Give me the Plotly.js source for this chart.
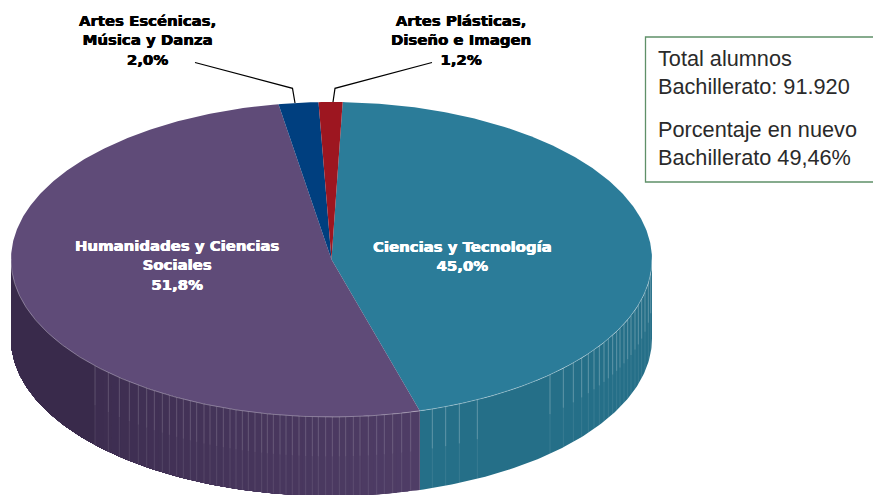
<!DOCTYPE html>
<html><head><meta charset="utf-8">
<script src="https://cdn.plot.ly/plotly-3.0.1.min.js"></script>
<style>html,body{margin:0;padding:0;background:#fff}#c{width:873px;height:495px}</style>
</head><body><div id="c"></div>
<script>
// Data
const categories = ["Ciencias y Tecnología","Humanidades y Ciencias<br>Sociales","Artes Escénicas,<br>Música y Danza","Artes Plásticas,<br>Diseño e Imagen"];
const shares = [45.0,51.8,2.0,1.2];
const shareLabels = ["45,0%","51,8%","2,0%","1,2%"];
const infoLines = ["Total alumnos<br>Bachillerato: 91.920","Porcentaje en nuevo<br>Bachillerato 49,46%"];

// Styles and geometry of the drawn disc (axis units = page pixels)
const topColors = ["#2b7c99","#5f4b78","#003f7f","#9d1620"];
const cx=331.5, cy=259.5, rx=320.5, ry=157.5, depth=79, startDeg=2;
const stripesPurple=[285,325,358,388,415,440,463,487,508,530,550,571,590,612,630,650,670,690,708,727,745,765,785,802,820,840,858,877,897,917,937,955,977,997,1018,1037,1060,1080,1105,1130,1153,1178,1205,1232].map(v=>v/3);
const stripesTeal=[37,77,118,172,390,430,460,485,505,522,538,552,565,578,590,600,612,623,633,645,655,665,675,685,692].map(v=>420+v/3);

const px=d=>cx+rx*Math.sin(d*Math.PI/180);
const py=d=>cy-ry*Math.cos(d*Math.PI/180);
const range=(a,b,n)=>Array.from({length:n+1},(_,i)=>a+(b-a)*i/n);
const hex=(c1,c2,t)=>{const p=c=>[1,3,5].map(i=>parseInt(c.substr(i,2),16));const a=p(c1),b=p(c2);return "rgb("+a.map((v,i)=>Math.round(v+(b[i]-v)*t)).join(",")+")";};

const traces=[];
function poly(xs,ys,color){traces.push({type:"scatter",mode:"lines",x:xs,y:ys,fill:"toself",fillcolor:color,line:{color:color,width:0},hoverinfo:"skip",showlegend:false});}

// sector boundaries
let acc=startDeg; const bounds=shares.map(s=>{const a=acc;acc+=s*3.6;return [a,acc];});

// side wall: each band overlaps everything to its left, so no seams appear
function wall(a,b,color){const t=range(a,b,Math.max(2,Math.ceil((b-a)*1.5)));
  poly(t.map(px).concat(t.slice().reverse().map(px)),t.map(py).concat(t.slice().reverse().map(d=>py(d)+depth)),color);}
const tealEnd=bounds[0][1];
wall(90,tealEnd,"#256f88");
const darkFrom=180-Math.asin((stripesPurple[0]-cx)/rx)*180/Math.PI;
const nSeg=30; const segs=range(tealEnd,darkFrom,nSeg);
for(let i=0;i<nSeg;i++){wall(segs[i],270,hex("#4f3d66","#3d2d50",i/(nSeg-1)));}
wall(darkFrom,270,"#392a4b");

// stripes on the wall
function stripes(list,cTop,cBot){
  const xa=[],ya=[],xb=[],yb=[];
  list.forEach(x=>{const s=(x-cx)/rx;const yTop=cy+ry*Math.sqrt(1-s*s);
    xa.push(x,x,null);ya.push(yTop,yTop+depth*0.5,null);
    xb.push(x,x,null);yb.push(yTop+depth*0.5,yTop+depth,null);});
  traces.push({type:"scatter",mode:"lines",x:xa,y:ya,line:{color:cTop,width:0.9},hoverinfo:"skip",showlegend:false});
  traces.push({type:"scatter",mode:"lines",x:xb,y:yb,line:{color:cBot,width:0.9},hoverinfo:"skip",showlegend:false});
}
stripes(stripesPurple,"rgba(255,255,255,0.2)","rgba(255,255,255,0.11)");
stripes(stripesTeal,"rgba(255,255,255,0.3)","rgba(255,255,255,0.1)");

// top sectors
bounds.forEach((b,i)=>{const t=range(b[0],b[1],Math.max(4,Math.ceil((b[1]-b[0])*2)));
  poly([cx].concat(t.map(px),[cx]),[cy].concat(t.map(py),[cy]),topColors[i]);});
// highlight on the front rim
const rim=range(90,270,360);
traces.push({type:"scatter",mode:"lines",x:rim.map(px),y:rim.map(py),line:{color:"rgba(255,255,255,0.4)",width:0.8},hoverinfo:"skip",showlegend:false});

// leader lines
const leaders=[[[195,62.5],[292.5,88.3],[295,103]],[[432,62.5],[335,88.3],[333,102]]];
leaders.forEach(l=>traces.push({type:"scatter",mode:"lines",x:l.map(p=>p[0]),y:l.map(p=>p[1]),line:{color:"#000",width:1.2},hoverinfo:"skip",showlegend:false}));

const lbl=(x,y,text,color)=>({x,y,xref:"x",yref:"y",text,showarrow:false,align:"center",xanchor:"center",yanchor:"middle",font:{family:"DejaVu Sans",size:14.9,color,weight:700,shadow:"0.35px 0 0 "+color+", -0.35px 0 0 "+color}});
const info=(y,text)=>({x:656,y,xref:"x",yref:"y",text,showarrow:false,align:"left",xanchor:"left",yanchor:"middle",font:{family:"Liberation Sans",size:21.7,color:"#2a2a2a"}});
const layout={width:873,height:495,margin:{l:0,r:0,t:0,b:0},paper_bgcolor:"#fff",plot_bgcolor:"#fff",showlegend:false,
  xaxis:{range:[0,873],visible:false,fixedrange:true},
  yaxis:{range:[495,0],visible:false,fixedrange:true},
  shapes:[{type:"rect",xref:"x",yref:"y",x0:645.5,x1:880,y0:37,y1:182,line:{color:"#5f9068",width:1.3},fillcolor:"rgba(0,0,0,0)"}],
  annotations:[
    lbl(462,256.5,categories[0]+"<br>"+shareLabels[0],"#fff"),
    lbl(177,265.5,categories[1]+"<br>"+shareLabels[1],"#fff"),
    lbl(147,40.5,categories[2]+"<br>"+shareLabels[2],"#000"),
    lbl(461,40.5,categories[3]+"<br>"+shareLabels[3],"#000"),
    info(72.5,infoLines[0]),info(143,infoLines[1])
  ]};
Plotly.newPlot("c",traces,layout,{displayModeBar:false,staticPlot:true});
</script></body></html>
